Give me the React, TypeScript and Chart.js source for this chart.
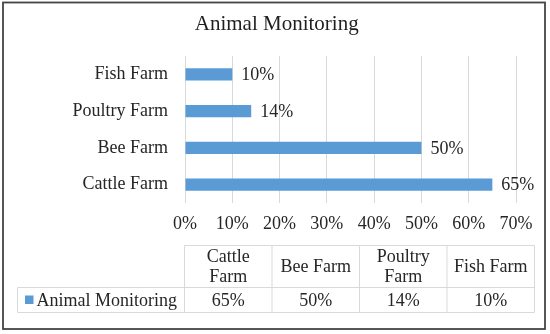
import React, { useEffect, useRef } from 'react';
import { Chart, registerables } from 'chart.js';

Chart.register(...registerables);

const chartTitle = 'Animal Monitoring';
const seriesName = 'Animal Monitoring';
const categories = ['Cattle Farm', 'Bee Farm', 'Poultry Farm', 'Fish Farm'];
const values = [65, 50, 14, 10];
const axisMin = 0;
const axisMax = 70;
const axisStep = 10;

const FONT = '"Liberation Serif", "Times New Roman", serif';
const TEXT = '#262626';
const BLUE = '#5B9BD5';
const GRID = '#d9d9d9';

const pct = (v: number) => `${v}%`;

const backgroundPlugin = {
  id: 'bgBorder',
  beforeDraw(chart: any) {
    const { ctx, width, height } = chart;
    ctx.save();
    ctx.fillStyle = '#ffffff';
    ctx.fillRect(0, 0, width, height);
    ctx.restore();
  },
  afterDraw(chart: any) {
    const { ctx } = chart;
    ctx.save();
    ctx.strokeStyle = '#444444';
    ctx.lineWidth = 1.8;
    ctx.strokeRect(3, 2.5, 542, 326.5);
    ctx.restore();
  },
};

const valueLabelPlugin = {
  id: 'valueLabels',
  afterDatasetsDraw(chart: any) {
    const { ctx } = chart;
    const meta = chart.getDatasetMeta(0);
    ctx.save();
    ctx.font = `18px ${FONT}`;
    ctx.fillStyle = TEXT;
    ctx.textAlign = 'left';
    ctx.textBaseline = 'middle';
    meta.data.forEach((el: any, i: number) => {
      ctx.fillText(pct(values[i]), el.x + 9, el.y + 1);
    });
    ctx.restore();
  },
};

function wrapText(ctx: CanvasRenderingContext2D, text: string, maxW: number): string[] {
  const words = text.split(' ');
  const lines: string[] = [];
  let cur = '';
  for (const w of words) {
    const test = cur ? cur + ' ' + w : w;
    if (ctx.measureText(test).width > maxW && cur) {
      lines.push(cur);
      cur = w;
    } else {
      cur = test;
    }
  }
  if (cur) lines.push(cur);
  return lines;
}

const dataTablePlugin = {
  id: 'dataTable',
  afterDraw(chart: any) {
    const { ctx } = chart;
    const area = chart.chartArea;
    const left = Math.round(area.left) - 0.5;
    const colW = 87.5;
    const n = categories.length;
    const right = left + colW * n;
    const top = 245.5;
    const mid = 287.5;
    const bottom = 312.5;
    const legendLeft = 17.5;

    ctx.save();
    ctx.strokeStyle = GRID;
    ctx.lineWidth = 1;
    ctx.beginPath();
    ctx.moveTo(left, top);
    ctx.lineTo(right, top);
    ctx.moveTo(legendLeft, mid);
    ctx.lineTo(right, mid);
    ctx.moveTo(legendLeft, bottom);
    ctx.lineTo(right, bottom);
    for (let i = 0; i <= n; i++) {
      const x = left + i * colW;
      ctx.moveTo(x, top);
      ctx.lineTo(x, bottom);
    }
    ctx.moveTo(legendLeft, mid);
    ctx.lineTo(legendLeft, bottom);
    ctx.stroke();

    ctx.font = `18px ${FONT}`;
    ctx.fillStyle = TEXT;
    ctx.textAlign = 'center';
    ctx.textBaseline = 'middle';
    const headCy = (top + mid) / 2 + 1;
    const rowCy = (mid + bottom) / 2 + 1;
    categories.forEach((c, i) => {
      const cx = left + (i + 0.5) * colW;
      const lines = wrapText(ctx, c, colW - 10);
      lines.forEach((ln, j) => {
        ctx.fillText(ln, cx, headCy + (j - (lines.length - 1) / 2) * 20);
      });
      ctx.fillText(pct(values[i]), cx, rowCy);
    });

    ctx.fillStyle = BLUE;
    ctx.fillRect(25, 295.5, 8.5, 8.5);
    ctx.fillStyle = TEXT;
    ctx.textAlign = 'left';
    ctx.fillText(seriesName, 36.5, rowCy);
    ctx.restore();
  },
};

export default function App() {
  const ref = useRef<HTMLCanvasElement | null>(null);

  useEffect(() => {
    document.body.style.margin = '0';
    if (!ref.current) return;
    const chart = new Chart(ref.current, {
      type: 'bar',
      data: {
        labels: categories,
        datasets: [
          {
            label: seriesName,
            data: values,
            backgroundColor: BLUE,
            borderWidth: 0,
            barPercentage: 0.34,
            categoryPercentage: 1,
          },
        ],
      },
      options: {
        indexAxis: 'y',
        responsive: false,
        animation: false,
        layout: { padding: { left: 37.4, right: 34, top: 0, bottom: 0 } },
        plugins: {
          legend: { display: false },
          tooltip: { enabled: false },
          title: {
            display: true,
            text: chartTitle,
            color: '#1f1f1f',
            font: { family: FONT, size: 21, weight: 'normal' },
            padding: { top: 12, bottom: 18.8 },
          },
        },
        scales: {
          x: {
            min: axisMin,
            max: axisMax,
            ticks: {
              stepSize: axisStep,
              callback: (v: any) => pct(Number(v)),
              color: TEXT,
              font: { family: FONT, size: 18 },
              padding: 10,
            },
            grid: { color: GRID, drawTicks: false },
            border: { display: false },
            afterFit: (s: any) => {
              s.height = 131;
            },
          },
          y: {
            reverse: true,
            ticks: {
              color: TEXT,
              font: { family: FONT, size: 18 },
              padding: 17,
            },
            grid: { display: false, drawTicks: false },
            border: { display: false },
            afterFit: (s: any) => {
              s.width = 147.6;
            },
          },
        },
      },
      plugins: [backgroundPlugin, valueLabelPlugin, dataTablePlugin],
    });
    return () => chart.destroy();
  }, []);

  return (
    <div style={{ position: 'absolute', left: 0, top: 0, width: 550, height: 334 }}>
      <canvas ref={ref} width={550} height={334} style={{ display: 'block' }} />
    </div>
  );
}
